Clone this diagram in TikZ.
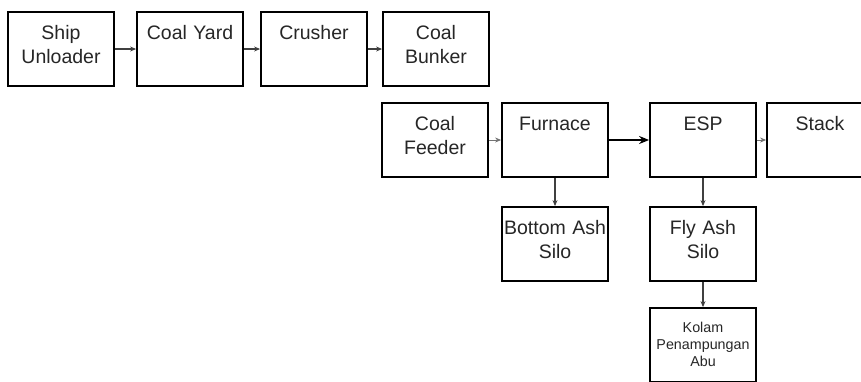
\documentclass[tikz,border=0pt]{standalone}
\usepackage{fontspec}
\setmainfont{Liberation Sans}
\usetikzlibrary{arrows.meta}
\begin{document}
\begin{tikzpicture}[
    x=1pt, y=-1pt,
    >={Stealth[length=6pt,width=5pt]},
    box/.style={
        draw=black,
        line width=1.8pt,
        inner sep=0pt,
        minimum width=106pt,
        minimum height=74pt,
        text width=106pt,
        text height=27pt,
        text depth=47pt,
        align=center,
        text=black!85,
        font=\fontsize{19.5}{24.5}\selectfont
    },
    smallbox/.style={box, text height=24pt, text depth=50pt,
        font=\fontsize{14.3}{17}\selectfont},
    arr/.style={->, line width=1.1pt, draw=black!75},
    thinarr/.style={->, line width=0.8pt, draw=black!55},
    bigarr/.style={-{Stealth[length=10pt,width=8pt]}, line width=2pt, draw=black}
]
    \useasboundingbox (0,0) rectangle (861,381);

    % coal handling
    \node[box] (ship) at (61,49) {Ship\\Unloader};
    \node[box] (yard) at (190,49) {Coal Yard};
    \node[box] (crusher) at (314,49) {Crusher};
    \node[box] (bunker) at (436,49) {Coal\\Bunker};

    % boiler and flue gas
    \node[box] (feeder) at (435,140) {Coal\\Feeder};
    \node[box] (furnace) at (555,140) {Furnace};
    \node[box] (esp) at (703,140) {ESP};
    \node[box] (stack) at (820,140) {Stack};

    % ash handling
    \node[box] (bottomash) at (555,244) {Bottom Ash\\Silo};
    \node[box] (flyash) at (703,244) {Fly Ash\\Silo};
    \node[smallbox] (kolam) at (703,345) {Kolam\\Penampungan\\Abu};

    \draw[arr] (ship) -- (yard);
    \draw[arr] (yard) -- (crusher);
    \draw[arr] (crusher) -- (bunker);

    \draw[thinarr] (feeder) -- (furnace);
    \draw[bigarr] (furnace) -- (esp);
    \draw[thinarr] (esp) -- (stack);

    \draw[arr] (furnace) -- (bottomash);
    \draw[arr] (esp) -- (flyash);
    \draw[arr] (flyash) -- (kolam);
\end{tikzpicture}
\end{document}
